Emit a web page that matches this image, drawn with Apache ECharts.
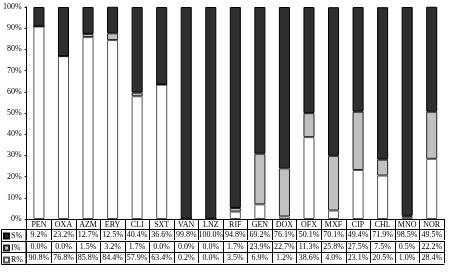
<!DOCTYPE html>
<html>
<head>
<meta charset="utf-8">
<script src="https://cdn.jsdelivr.net/npm/echarts@6/dist/echarts.min.js"></script>
<style>html,body{margin:0;padding:0;background:#fff}#c{width:454px;height:272px}</style>
</head>
<body>
<div id="c"></div>
<script>
const categories = ['PEN','OXA','AZM','ERY','CLI','SXT','VAN','LNZ','RIF','GEN','DOX','OFX','MXF','CIP','CHL','MNO','NOR'];
const sValues = [9.2, 23.2, 12.7, 12.5, 40.4, 36.6, 99.8, 100.0, 94.8, 69.2, 76.1, 50.1, 70.1, 49.4, 71.9, 98.5, 49.5];
const iValues = [0.0, 0.0, 1.5, 3.2, 1.7, 0.0, 0.0, 0.0, 1.7, 23.9, 22.7, 11.3, 25.8, 27.5, 7.5, 0.5, 22.2];
const rValues = [90.8, 76.8, 85.8, 84.4, 57.9, 63.4, 0.2, 0.0, 3.5, 6.9, 1.2, 38.6, 4.0, 23.1, 20.5, 1.0, 28.4];
const yTicks = [0,10,20,30,40,50,60,70,80,90,100];

const FONT = 'Liberation Serif';
const fmt = v => v.toFixed(1) + '%';

function tableAxis(offset, labels) {
  return {
    type: 'category', data: categories, position: 'bottom', offset: offset,
    axisLine: {show: true, lineStyle: {color: '#000', width: 1}},
    axisTick: {show: !!labels, interval: 0, length: labels ? 11 : 0, lineStyle: {color: '#000'}},
    axisLabel: {show: !!labels, interval: 0, margin: 2, fontFamily: FONT, fontSize: 8, color: '#000',
      formatter: (v, i) => labels ? labels[i] : ''},
    splitLine: {show: false}
  };
}

const chart = echarts.init(document.getElementById('c'), null, {renderer: 'canvas'});
chart.setOption({
  animation: false,
  backgroundColor: '#fff',
  grid: {left: 26, right: 10, top: 7, bottom: 53, containLabel: false},
  legend: {
    data: ['S%','I%','R%'], orient: 'vertical', left: 3, top: 232,
    itemWidth: 5, itemHeight: 5, itemGap: 4, selectedMode: false, icon: 'rect',
    textStyle: {fontFamily: FONT, fontSize: 8, color: '#000', lineHeight: 7, padding: [0, 0, 0, -3]},
    padding: 0
  },
  yAxis: {
    type: 'value', min: 0, max: 100, interval: 10,
    axisLine: {show: true, lineStyle: {color: '#000'}},
    axisTick: {show: true, length: 2, lineStyle: {color: '#000'}},
    axisLabel: {fontFamily: FONT, fontSize: 8, color: '#000', margin: 5, formatter: v => v + '%'},
    splitLine: {show: false}
  },
  xAxis: [
    {
      type: 'category', data: categories, position: 'bottom',
      axisLine: {show: true, lineStyle: {color: '#000'}},
      axisTick: {show: true, interval: 0, length: 10, lineStyle: {color: '#000'}},
      axisLabel: {interval: 0, margin: 2, fontFamily: FONT, fontSize: 8, color: '#000'}
    },
    tableAxis(10, sValues.map(fmt)),
    tableAxis(22, iValues.map(fmt)),
    tableAxis(33, rValues.map(fmt)),
    tableAxis(45, null)
  ],
  graphic: [
    {type: 'rect', shape: {x: 1.5, y: 229.5, width: 24.5, height: 35}, style: {fill: 'none', stroke: '#000', lineWidth: 1}},
    {type: 'line', shape: {x1: 1.5, y1: 241.5, x2: 26, y2: 241.5}, style: {stroke: '#000', lineWidth: 1}},
    {type: 'line', shape: {x1: 1.5, y1: 252.5, x2: 26, y2: 252.5}, style: {stroke: '#000', lineWidth: 1}}
  ],
  series: [
    {name: 'R%', type: 'bar', stack: 't', data: rValues, barWidth: '45%',
      itemStyle: {color: '#ffffff', borderColor: '#555', borderWidth: 1}},
    {name: 'I%', type: 'bar', stack: 't', data: iValues, barWidth: '45%',
      itemStyle: {color: '#c0c0c0', borderColor: '#222', borderWidth: 1}},
    {name: 'S%', type: 'bar', stack: 't', data: sValues, barWidth: '45%',
      itemStyle: {color: '#2f2f2f', borderColor: '#000', borderWidth: 1}}
  ]
});
</script>
</body>
</html>
